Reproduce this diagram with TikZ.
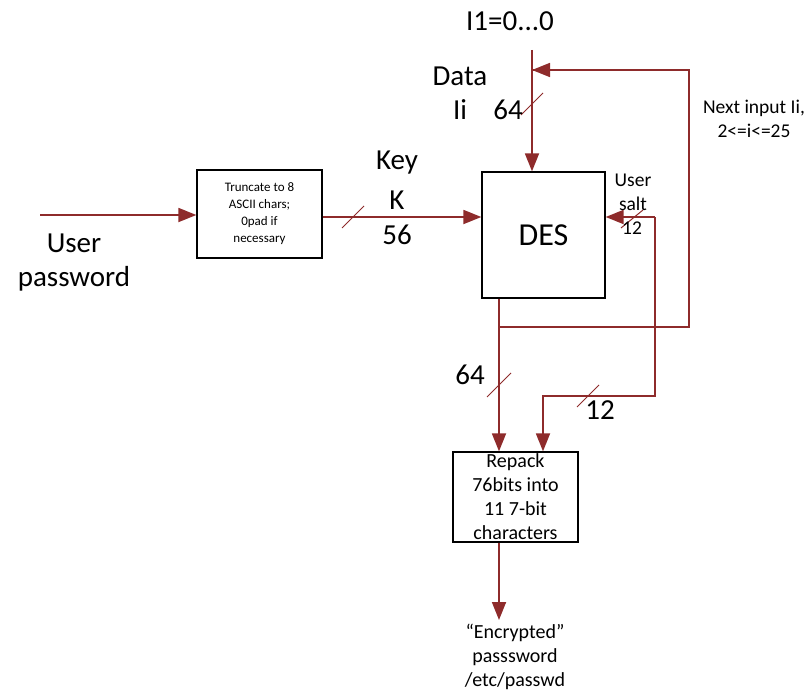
\documentclass[tikz,border=0pt]{standalone}
\usepackage{fontspec}
\setmainfont{Carlito}
\usetikzlibrary{arrows.meta}
\definecolor{wire}{HTML}{8E2B2B}
\tikzset{
  line/.style={draw=wire, line width=1.8pt},
  arr/.style={line, -{Triangle[length=18pt,width=14pt]}},
  tick/.style={draw=wire, line width=1pt},
  box/.style={draw, line width=1.3pt, inner sep=0pt, align=center},
  big/.style={font=\fontsize{29}{30}\selectfont},
  small/.style={font=\fontsize{19.5}{24}\selectfont, align=center}
}
\begin{document}
\begin{tikzpicture}[x=1pt,y=-1pt]
\useasboundingbox (0,0) rectangle (809,693);

% blocks
\node[box, minimum width=125pt, minimum height=88pt,
  font=\fontsize{13}{17}\selectfont] (T) at (259.5,214)
  {Truncate to 8\\ASCII chars;\\0pad if\\necessary};
\node[box, minimum width=123pt, minimum height=126pt,
  font=\fontsize{32}{34}\selectfont] (D) at (543.5,235) {DES};
\node[box, minimum width=125pt, minimum height=90pt,
  font=\fontsize{20}{24}\selectfont] (R) at (515.5,497)
  {Repack\\76bits into\\11 7-bit\\characters};

\coordinate (U) at (40,215);
\coordinate (I) at (532,50);
\coordinate (F) at (532,70);
\coordinate (J) at (499,327);
\coordinate (S) at (655,217);
\coordinate (E) at (499,620);

% wires
\draw[arr] (U) -- (T.west |- U);
\draw[arr] (T.east |- 0,217) -- (D.west |- 0,217);
\draw[arr] (I) -- (D.north -| I);
\draw[arr] (D.south -| J) -- (R.north -| J);
\draw[line] (J) -- (689,327) -- (689,70) -| (F);
\draw[arr] (689,70) -- (F);
\draw[arr] (S) -- (D.east |- S);
\draw[arr] (S) |- (543,396) -- (R.north -| 543,0);
\draw[arr] (R.south -| E) -- (E);

% bus ticks
\draw[tick] (353,217) +(-11,11) -- +(11,-11);
\draw[tick] (532,104) +(-11,11) -- +(11,-11);
\draw[tick] (499,385) +(-12,12) -- +(12,-12);
\draw[tick] (588,396) +(-11,11) -- +(11,-11);
\draw[tick] (632,219) +(-11,9) -- +(11,-9);

% labels
\node[big] at (74,243) {User};
\node[big] at (74,279) {password};
\node[big] at (397,163) {Key};
\node[big] at (397,200) {K};
\node[big] at (397,235) {56};
\node[big] at (510,21) {I1=0...0};
\node[big] at (460,76) {Data};
\node[big] at (460,110) {Ii};
\node[big] at (508,110) {64};
\node[big] at (470,375) {64};
\node[big] at (600,410) {12};
\node[small] at (633,192) {User\\salt};
\node[small] at (632,228) {12};
\node[small] at (754,119) {Next input Ii,\\2<=i<=25};
\node[small, font=\fontsize{20}{24}\selectfont] at (515,657)
  {“Encrypted”\\passsword\\/etc/passwd};
\end{tikzpicture}
\end{document}
